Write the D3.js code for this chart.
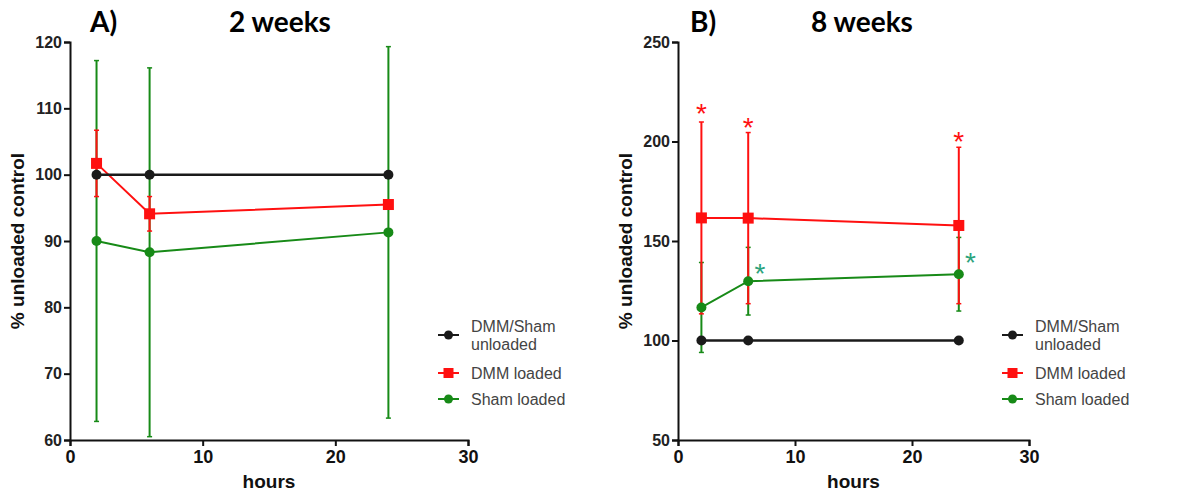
<!DOCTYPE html>
<html>
<head>
<meta charset="utf-8">
<script src="https://cdn.jsdelivr.net/npm/d3@7"></script>
<style>
  body { margin: 0; background: #fff; }
  svg text { font-family: "Liberation Sans", Arial, sans-serif; }
</style>
</head>
<body>
<div id="chart"></div>
<script>
// time points (hours after loading)
const hours = [2, 6, 24];

// 2 weeks
const unloadedA = [100, 100, 100];
const dmmA = [101.7, 94.1, 95.5];
const dmmErrA = [5.0, 2.6, 0.4];
const shamA = [90.0, 88.3, 91.3];
const shamErrA = [27.2, 27.8, 28.0];

// 8 weeks
const unloadedB = [100, 100, 100];
const dmmB = [161.6, 161.5, 157.8];
const dmmErrB = [48.2, 43.0, 39.3];
const shamB = [116.6, 129.8, 133.3];
const shamErrB = [22.6, 17.0, 18.5];

// significance stars in panel B: [hour, value]
const starsRedB = [[2, 217], [6, 210], [24, 203]];
const starsGreenB = [[7, 136.5], [25, 142]];

const yTicksA = [60, 70, 80, 90, 100, 110, 120];
const yTicksB = [50, 100, 150, 200, 250];
const xTicks = [0, 10, 20, 30];

const legendLabels = [["DMM/Sham", "unloaded"], ["DMM loaded"], ["Sham loaded"]];

const colors = { black: "#1a1a1a", red: "#ff1010", green: "#178a17", star: "#2ba37c" };

const svg = d3.select("#chart").append("svg")
  .attr("width", 1192)
  .attr("height", 492);

class Panel {
  constructor(_config) {
    this.config = _config;
    this.initVis();
  }

  initVis() {
    const vis = this;
    const c = vis.config;

    vis.g = svg.append("g");

    vis.x = d3.scaleLinear().domain([0, 30]).range([c.left, c.right]);
    vis.y = d3.scaleLinear().domain(c.yDomain).range([440, 42]);

    // axes
    const yAxis = vis.g.append("g")
      .attr("transform", `translate(${c.left},0)`)
      .call(d3.axisLeft(vis.y).tickValues(c.yTicks).tickSize(6).tickPadding(2));
    yAxis.selectAll("text")
      .style("font-size", "16px")
      .style("font-weight", "bold")
      .attr("fill", "#222");

    const xAxis = vis.g.append("g")
      .attr("transform", "translate(0,440)")
      .call(d3.axisBottom(vis.x).tickValues(xTicks).tickSize(6).tickPadding(4));
    xAxis.selectAll("text")
      .style("font-size", "18px")
      .style("font-weight", "bold")
      .attr("fill", "#111");

    vis.g.selectAll(".domain, .tick line")
      .attr("stroke", "#111")
      .attr("stroke-width", 2);

    // axis titles
    vis.g.append("text")
      .attr("transform", `translate(${c.left - 46},241) rotate(-90)`)
      .attr("text-anchor", "middle")
      .style("font-size", "19px")
      .style("font-weight", "bold")
      .attr("fill", "#111")
      .text("% unloaded control");

    vis.g.append("text")
      .attr("x", vis.x(15))
      .attr("y", 488)
      .attr("text-anchor", "middle")
      .style("font-size", "19px")
      .style("font-weight", "bold")
      .attr("fill", "#111")
      .text("hours");

    // panel letter and title
    vis.g.append("text")
      .attr("x", c.letterX)
      .attr("y", 32)
      .style("font-family", "Lato, 'Open Sans', sans-serif")
      .style("font-size", "28px")
      .style("font-weight", "bold")
      .text(c.letter);

    vis.g.append("text")
      .attr("x", c.titleX)
      .attr("y", 32)
      .attr("text-anchor", "middle")
      .style("font-family", "Lato, 'Open Sans', sans-serif")
      .style("font-size", "28px")
      .style("font-weight", "bold")
      .text(c.title);

    vis.updateVis();
  }

  updateVis() {
    const vis = this;
    const c = vis.config;

    const series = [
      { key: "green", values: c.sham, err: c.shamErr, color: colors.green, shape: "circle" },
      { key: "red", values: c.dmm, err: c.dmmErr, color: colors.red, shape: "square" },
      { key: "black", values: c.unloaded, err: null, color: colors.black, shape: "circle" },
    ];

    // error bars
    series.filter((s) => s.err).forEach((s) => {
      const eg = vis.g.append("g").attr("class", `err-${s.key}`);
      hours.forEach((h, i) => {
        const hi = vis.y(s.values[i] + s.err[i]);
        const lo = vis.y(s.values[i] - s.err[i]);
        const xp = vis.x(h);
        eg.append("line")
          .attr("x1", xp).attr("x2", xp)
          .attr("y1", hi).attr("y2", lo)
          .attr("stroke", s.color).attr("stroke-width", 2);
        [hi, lo].forEach((yy) => {
          eg.append("line")
            .attr("x1", xp - 2.5).attr("x2", xp + 2.5)
            .attr("y1", yy).attr("y2", yy)
            .attr("stroke", s.color).attr("stroke-width", 1.5);
        });
      });
    });

    // lines
    const line = d3.line()
      .x((d) => vis.x(d[0]))
      .y((d) => vis.y(d[1]));

    series.forEach((s) => {
      vis.g.append("path")
        .datum(hours.map((h, i) => [h, s.values[i]]))
        .attr("d", line)
        .attr("fill", "none")
        .attr("stroke", s.color)
        .attr("stroke-width", s.key == "black" ? 2.5 : 2);
    });

    // markers
    series.forEach((s) => {
      const pts = hours.map((h, i) => [h, s.values[i]]);
      if (s.shape == "square") {
        vis.g.selectAll(`rect.pt-${s.key}`)
          .data(pts)
          .join("rect")
          .attr("class", `pt-${s.key}`)
          .attr("x", (d) => vis.x(d[0]) - 5.5)
          .attr("y", (d) => vis.y(d[1]) - 5.5)
          .attr("width", 11)
          .attr("height", 11)
          .attr("fill", s.color);
      } else {
        vis.g.selectAll(`circle.pt-${s.key}`)
          .data(pts)
          .join("circle")
          .attr("class", `pt-${s.key}`)
          .attr("cx", (d) => vis.x(d[0]))
          .attr("cy", (d) => vis.y(d[1]))
          .attr("r", 5)
          .attr("fill", s.color);
      }
    });

    // significance stars
    (c.starsRed || []).forEach((d) => vis.addStar(d, colors.red));
    (c.starsGreen || []).forEach((d) => vis.addStar(d, colors.star));

    // legend
    const lg = vis.g.append("g").attr("transform", `translate(${c.legendX},0)`);
    const rows = [
      { y: 335, color: colors.black, shape: "circle", label: legendLabels[0] },
      { y: 373, color: colors.red, shape: "square", label: legendLabels[1] },
      { y: 399, color: colors.green, shape: "circle", label: legendLabels[2] },
    ];
    rows.forEach((r) => {
      lg.append("line")
        .attr("x1", 0).attr("x2", 21)
        .attr("y1", r.y).attr("y2", r.y)
        .attr("stroke", r.color).attr("stroke-width", 2);
      if (r.shape == "square") {
        lg.append("rect")
          .attr("x", 10.5 - 5).attr("y", r.y - 5)
          .attr("width", 10).attr("height", 10)
          .attr("fill", r.color);
      } else {
        lg.append("circle")
          .attr("cx", 10.5).attr("cy", r.y).attr("r", 4.5)
          .attr("fill", r.color);
      }
      const t = lg.append("text")
        .attr("x", 33)
        .attr("y", r.label.length > 1 ? r.y - 3 : r.y + 5.5)
        .style("font-size", "16px")
        .attr("fill", "#444");
      r.label.forEach((l, i) => {
        t.append("tspan").attr("x", 33).attr("dy", i == 0 ? 0 : 18).text(l);
      });
    });
  }

  addStar(d, color) {
    const vis = this;
    vis.g.append("text")
      .attr("x", vis.x(d[0]))
      .attr("y", vis.y(d[1]) + 15)
      .attr("text-anchor", "middle")
      .style("font-size", "28px")
      .attr("fill", color)
      .text("*");
  }
}

new Panel({
  left: 70, right: 468,
  yDomain: [60, 120], yTicks: yTicksA,
  unloaded: unloadedA, dmm: dmmA, dmmErr: dmmErrA, sham: shamA, shamErr: shamErrA,
  letter: "A)", letterX: 90, title: "2 weeks", titleX: 280,
  legendX: 438,
});

new Panel({
  left: 678, right: 1029,
  yDomain: [50, 250], yTicks: yTicksB,
  unloaded: unloadedB, dmm: dmmB, dmmErr: dmmErrB, sham: shamB, shamErr: shamErrB,
  starsRed: starsRedB, starsGreen: starsGreenB,
  letter: "B)", letterX: 690, title: "8 weeks", titleX: 862,
  legendX: 1002,
});
</script>
</body>
</html>
